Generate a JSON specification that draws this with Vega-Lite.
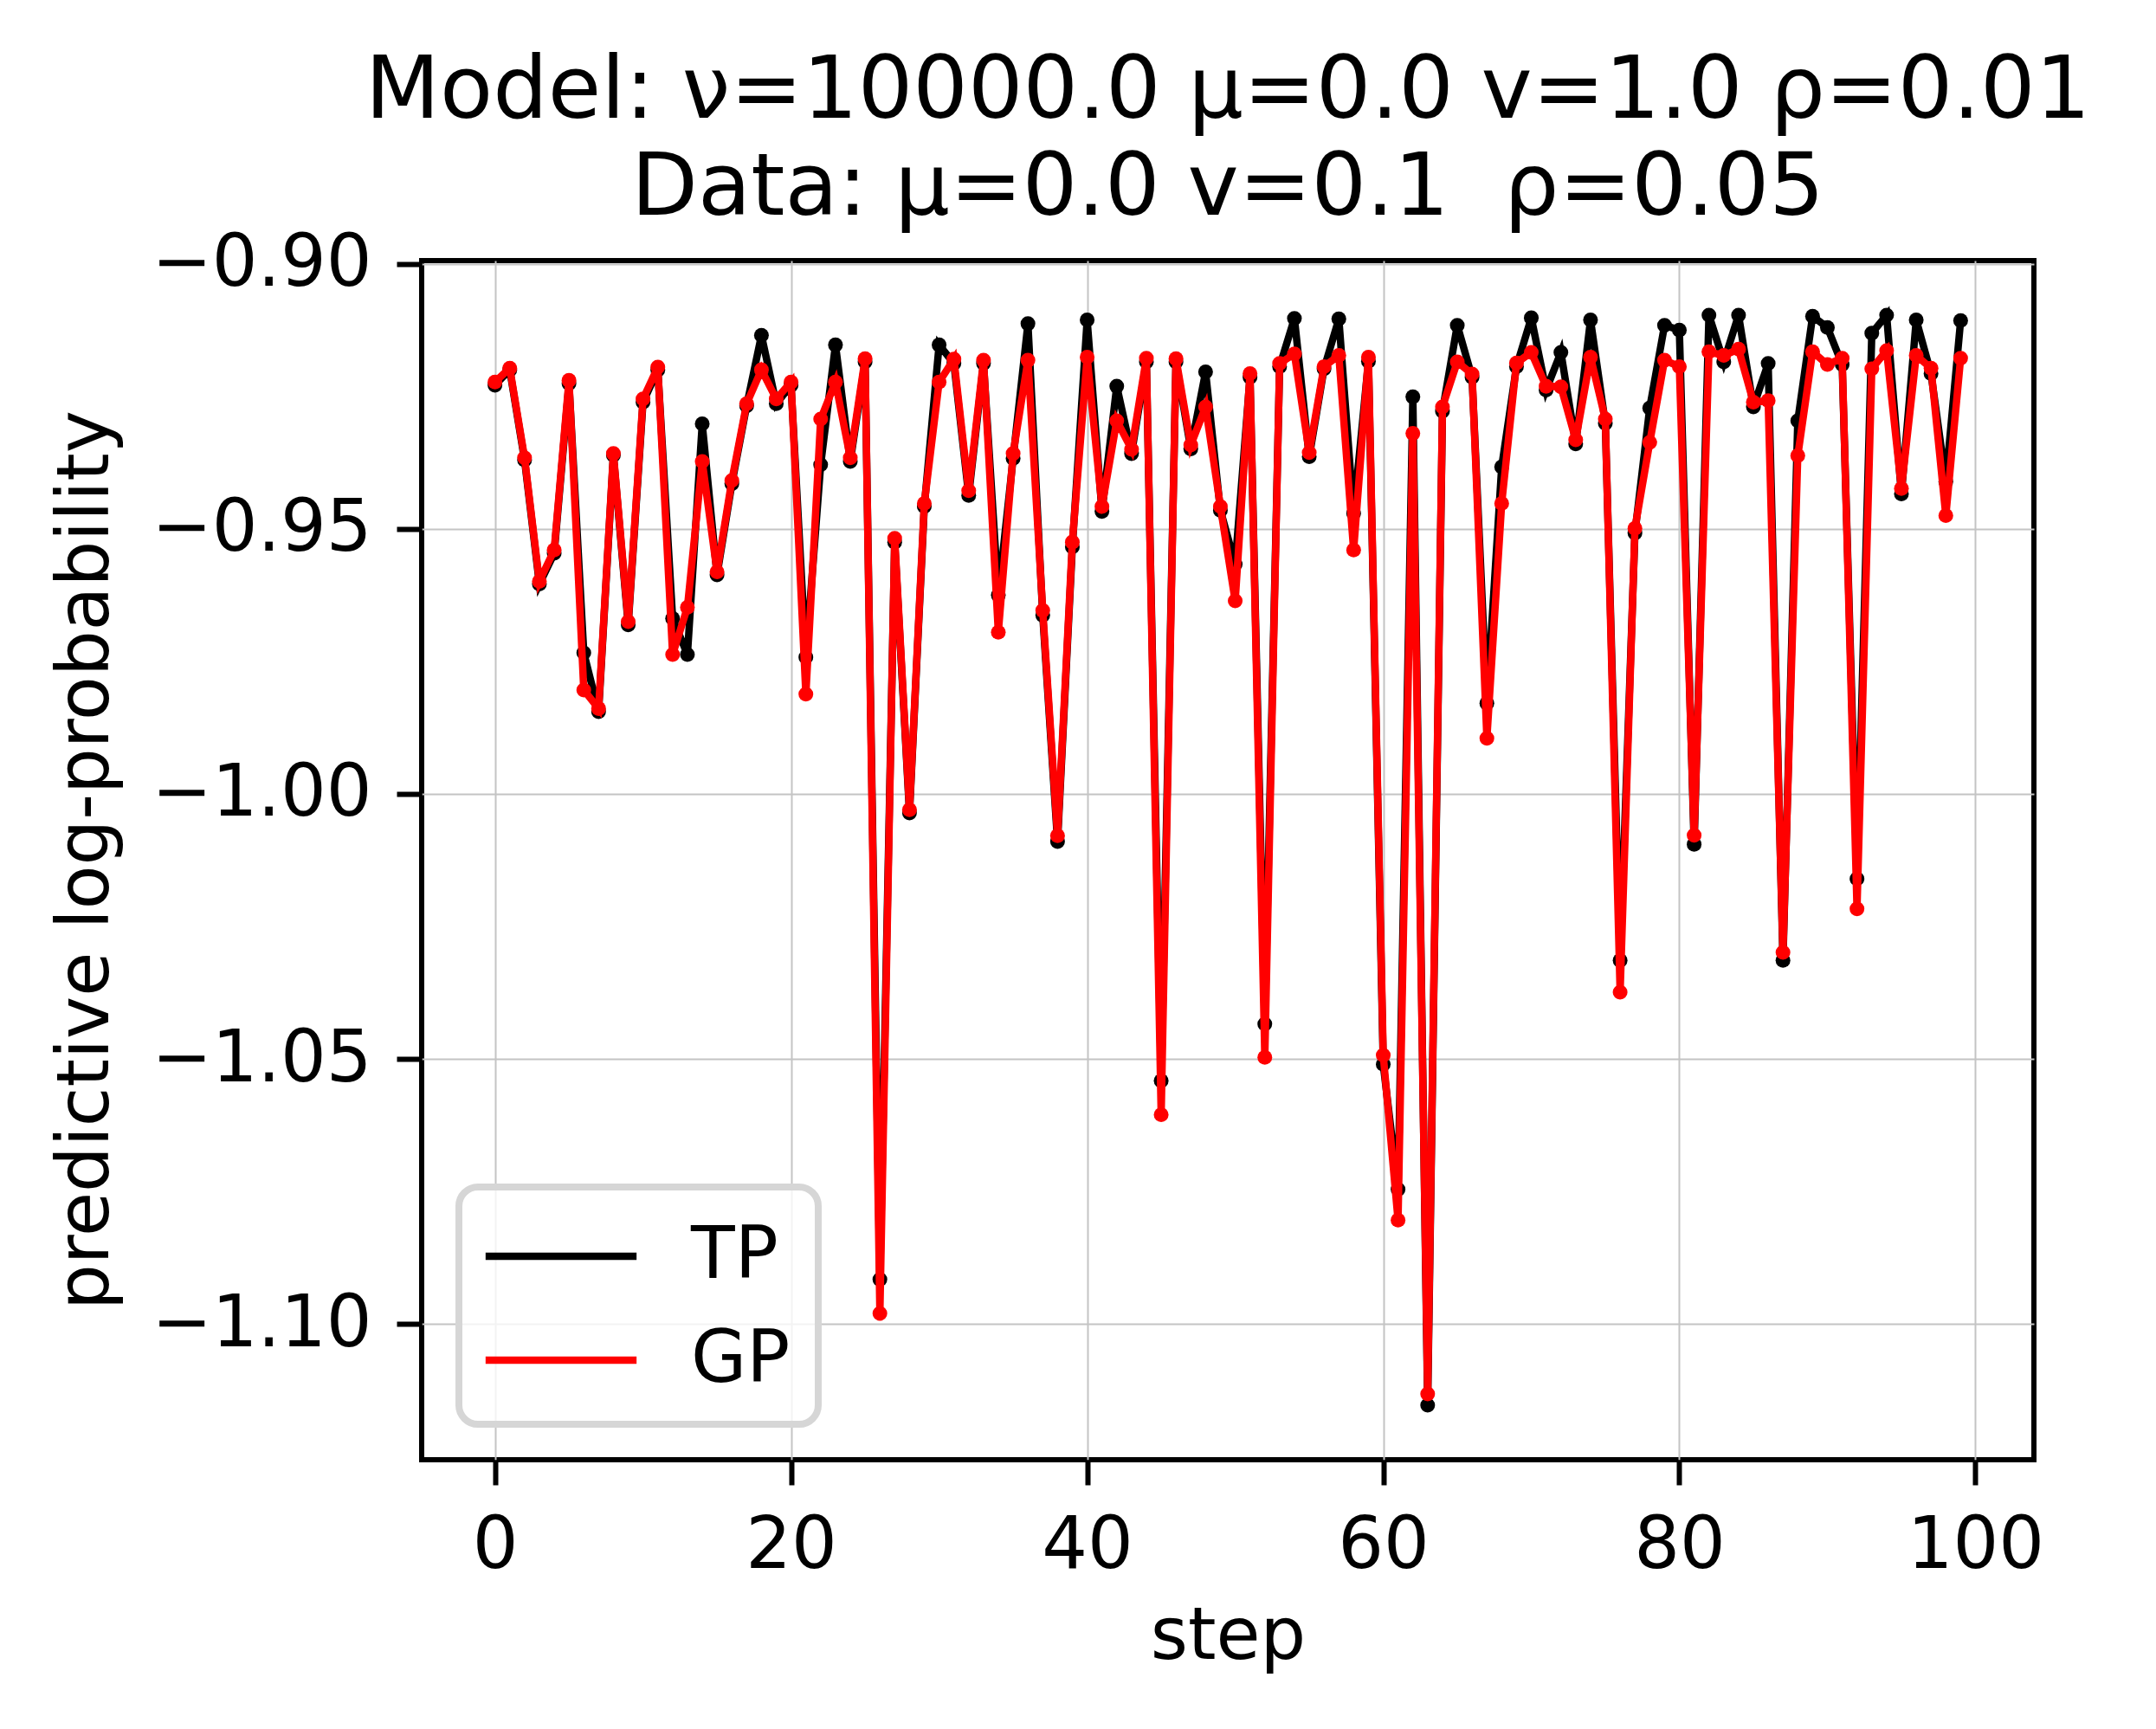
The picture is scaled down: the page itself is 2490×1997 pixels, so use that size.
{
  "$schema": "https://vega.github.io/schema/vega-lite/v6.json",
  "autosize": "none",
  "width": 1862,
  "height": 1385,
  "padding": {"left": 487, "top": 301, "right": 141, "bottom": 311},
  "background": "white",
  "title": {
    "text": ["Model: ν=10000.0 μ=0.0 v=1.0 ρ=0.01", "Data: μ=0.0 v=0.1\u00a0 ρ=0.05"],
    "font": "DejaVu Sans",
    "fontSize": 100,
    "fontWeight": "normal",
    "color": "black",
    "lineHeight": 112,
    "offset": -5,
    "anchor": "middle",
    "frame": "group"
  },
  "config": {
    "font": "DejaVu Sans",
    "view": {"stroke": "black", "strokeWidth": 6},
    "legend": {"strokeWidth": 8},
    "axis": {
      "domain": false,
      "grid": true,
      "gridColor": "#c4c4c4",
      "gridWidth": 2,
      "tickColor": "black",
      "tickWidth": 6,
      "tickSize": 29,
      "labelFont": "DejaVu Sans",
      "labelFontSize": 83,
      "labelColor": "black",
      "labelPadding": 29,
      "labelLimit": 1000,
      "titleFont": "DejaVu Sans",
      "titleFontSize": 83,
      "titleFontWeight": "normal",
      "titleColor": "black"
    }
  },
  "data": {
    "values": [
      {"step": 0, "model": "TP", "value": -0.9229}, {"step": 1, "model": "TP", "value": -0.9200},
      {"step": 2, "model": "TP", "value": -0.9370}, {"step": 3, "model": "TP", "value": -0.9604},
      {"step": 4, "model": "TP", "value": -0.9546}, {"step": 5, "model": "TP", "value": -0.9226},
      {"step": 6, "model": "TP", "value": -0.9734}, {"step": 7, "model": "TP", "value": -0.9845},
      {"step": 8, "model": "TP", "value": -0.9361}, {"step": 9, "model": "TP", "value": -0.9681},
      {"step": 10, "model": "TP", "value": -0.9261}, {"step": 11, "model": "TP", "value": -0.9200},
      {"step": 12, "model": "TP", "value": -0.9669}, {"step": 13, "model": "TP", "value": -0.9737},
      {"step": 14, "model": "TP", "value": -0.9302}, {"step": 15, "model": "TP", "value": -0.9587},
      {"step": 16, "model": "TP", "value": -0.9415}, {"step": 17, "model": "TP", "value": -0.9268},
      {"step": 18, "model": "TP", "value": -0.9135}, {"step": 19, "model": "TP", "value": -0.9264},
      {"step": 20, "model": "TP", "value": -0.9229}, {"step": 21, "model": "TP", "value": -0.9742},
      {"step": 22, "model": "TP", "value": -0.9379}, {"step": 23, "model": "TP", "value": -0.9153},
      {"step": 24, "model": "TP", "value": -0.9373}, {"step": 25, "model": "TP", "value": -0.9185},
      {"step": 26, "model": "TP", "value": -1.0916}, {"step": 27, "model": "TP", "value": -0.9525},
      {"step": 28, "model": "TP", "value": -1.0036}, {"step": 29, "model": "TP", "value": -0.9458},
      {"step": 30, "model": "TP", "value": -0.9153}, {"step": 31, "model": "TP", "value": -0.9188},
      {"step": 32, "model": "TP", "value": -0.9437}, {"step": 33, "model": "TP", "value": -0.9188},
      {"step": 34, "model": "TP", "value": -0.9625}, {"step": 35, "model": "TP", "value": -0.9367},
      {"step": 36, "model": "TP", "value": -0.9113}, {"step": 37, "model": "TP", "value": -0.9663},
      {"step": 38, "model": "TP", "value": -1.0090}, {"step": 39, "model": "TP", "value": -0.9534},
      {"step": 40, "model": "TP", "value": -0.9106}, {"step": 41, "model": "TP", "value": -0.9467},
      {"step": 42, "model": "TP", "value": -0.9231}, {"step": 43, "model": "TP", "value": -0.9358},
      {"step": 44, "model": "TP", "value": -0.9185}, {"step": 45, "model": "TP", "value": -1.0541},
      {"step": 46, "model": "TP", "value": -0.9185}, {"step": 47, "model": "TP", "value": -0.9349},
      {"step": 48, "model": "TP", "value": -0.9204}, {"step": 49, "model": "TP", "value": -0.9465},
      {"step": 50, "model": "TP", "value": -0.9567}, {"step": 51, "model": "TP", "value": -0.9214},
      {"step": 52, "model": "TP", "value": -1.0434}, {"step": 53, "model": "TP", "value": -0.9194},
      {"step": 54, "model": "TP", "value": -0.9103}, {"step": 55, "model": "TP", "value": -0.9364},
      {"step": 56, "model": "TP", "value": -0.9198}, {"step": 57, "model": "TP", "value": -0.9104},
      {"step": 58, "model": "TP", "value": -0.9471}, {"step": 59, "model": "TP", "value": -0.9184},
      {"step": 60, "model": "TP", "value": -1.0510}, {"step": 61, "model": "TP", "value": -1.0746},
      {"step": 62, "model": "TP", "value": -0.9251}, {"step": 63, "model": "TP", "value": -1.1153},
      {"step": 64, "model": "TP", "value": -0.9278}, {"step": 65, "model": "TP", "value": -0.9116},
      {"step": 66, "model": "TP", "value": -0.9214}, {"step": 67, "model": "TP", "value": -0.9829},
      {"step": 68, "model": "TP", "value": -0.9383}, {"step": 69, "model": "TP", "value": -0.9194},
      {"step": 70, "model": "TP", "value": -0.9102}, {"step": 71, "model": "TP", "value": -0.9238},
      {"step": 72, "model": "TP", "value": -0.9167}, {"step": 73, "model": "TP", "value": -0.9340},
      {"step": 74, "model": "TP", "value": -0.9106}, {"step": 75, "model": "TP", "value": -0.9301},
      {"step": 76, "model": "TP", "value": -1.0314}, {"step": 77, "model": "TP", "value": -0.9508},
      {"step": 78, "model": "TP", "value": -0.9272}, {"step": 79, "model": "TP", "value": -0.9116},
      {"step": 80, "model": "TP", "value": -0.9125}, {"step": 81, "model": "TP", "value": -1.0095},
      {"step": 82, "model": "TP", "value": -0.9097}, {"step": 83, "model": "TP", "value": -0.9185},
      {"step": 84, "model": "TP", "value": -0.9097}, {"step": 85, "model": "TP", "value": -0.9270},
      {"step": 86, "model": "TP", "value": -0.9188}, {"step": 87, "model": "TP", "value": -1.0314},
      {"step": 88, "model": "TP", "value": -0.9296}, {"step": 89, "model": "TP", "value": -0.9099},
      {"step": 90, "model": "TP", "value": -0.9120}, {"step": 91, "model": "TP", "value": -0.9190},
      {"step": 92, "model": "TP", "value": -1.0160}, {"step": 93, "model": "TP", "value": -0.9131},
      {"step": 94, "model": "TP", "value": -0.9097}, {"step": 95, "model": "TP", "value": -0.9434},
      {"step": 96, "model": "TP", "value": -0.9106}, {"step": 97, "model": "TP", "value": -0.9207},
      {"step": 98, "model": "TP", "value": -0.9411}, {"step": 99, "model": "TP", "value": -0.9107},

      {"step": 0, "model": "GP", "value": -0.9223}, {"step": 1, "model": "GP", "value": -0.9197},
      {"step": 2, "model": "GP", "value": -0.9366}, {"step": 3, "model": "GP", "value": -0.9599},
      {"step": 4, "model": "GP", "value": -0.9540}, {"step": 5, "model": "GP", "value": -0.9220},
      {"step": 6, "model": "GP", "value": -0.9804}, {"step": 7, "model": "GP", "value": -0.9839},
      {"step": 8, "model": "GP", "value": -0.9358}, {"step": 9, "model": "GP", "value": -0.9675},
      {"step": 10, "model": "GP", "value": -0.9255}, {"step": 11, "model": "GP", "value": -0.9195},
      {"step": 12, "model": "GP", "value": -0.9737}, {"step": 13, "model": "GP", "value": -0.9648},
      {"step": 14, "model": "GP", "value": -0.9373}, {"step": 15, "model": "GP", "value": -0.9581},
      {"step": 16, "model": "GP", "value": -0.9409}, {"step": 17, "model": "GP", "value": -0.9264},
      {"step": 18, "model": "GP", "value": -0.9200}, {"step": 19, "model": "GP", "value": -0.9255},
      {"step": 20, "model": "GP", "value": -0.9223}, {"step": 21, "model": "GP", "value": -0.9812},
      {"step": 22, "model": "GP", "value": -0.9293}, {"step": 23, "model": "GP", "value": -0.9223},
      {"step": 24, "model": "GP", "value": -0.9366}, {"step": 25, "model": "GP", "value": -0.9179},
      {"step": 26, "model": "GP", "value": -1.0980}, {"step": 27, "model": "GP", "value": -0.9518},
      {"step": 28, "model": "GP", "value": -1.0030}, {"step": 29, "model": "GP", "value": -0.9452},
      {"step": 30, "model": "GP", "value": -0.9223}, {"step": 31, "model": "GP", "value": -0.9180},
      {"step": 32, "model": "GP", "value": -0.9428}, {"step": 33, "model": "GP", "value": -0.9182},
      {"step": 34, "model": "GP", "value": -0.9695}, {"step": 35, "model": "GP", "value": -0.9358},
      {"step": 36, "model": "GP", "value": -0.9182}, {"step": 37, "model": "GP", "value": -0.9654},
      {"step": 38, "model": "GP", "value": -1.0079}, {"step": 39, "model": "GP", "value": -0.9525},
      {"step": 40, "model": "GP", "value": -0.9176}, {"step": 41, "model": "GP", "value": -0.9458},
      {"step": 42, "model": "GP", "value": -0.9296}, {"step": 43, "model": "GP", "value": -0.9350},
      {"step": 44, "model": "GP", "value": -0.9178}, {"step": 45, "model": "GP", "value": -1.0605},
      {"step": 46, "model": "GP", "value": -0.9179}, {"step": 47, "model": "GP", "value": -0.9342},
      {"step": 48, "model": "GP", "value": -0.9270}, {"step": 49, "model": "GP", "value": -0.9458},
      {"step": 50, "model": "GP", "value": -0.9636}, {"step": 51, "model": "GP", "value": -0.9207},
      {"step": 52, "model": "GP", "value": -1.0497}, {"step": 53, "model": "GP", "value": -0.9188},
      {"step": 54, "model": "GP", "value": -0.9170}, {"step": 55, "model": "GP", "value": -0.9356},
      {"step": 56, "model": "GP", "value": -0.9194}, {"step": 57, "model": "GP", "value": -0.9173},
      {"step": 58, "model": "GP", "value": -0.9540}, {"step": 59, "model": "GP", "value": -0.9176},
      {"step": 60, "model": "GP", "value": -1.0493}, {"step": 61, "model": "GP", "value": -1.0804},
      {"step": 62, "model": "GP", "value": -0.9320}, {"step": 63, "model": "GP", "value": -1.1132},
      {"step": 64, "model": "GP", "value": -0.9270}, {"step": 65, "model": "GP", "value": -0.9185},
      {"step": 66, "model": "GP", "value": -0.9208}, {"step": 67, "model": "GP", "value": -0.9895},
      {"step": 68, "model": "GP", "value": -0.9452}, {"step": 69, "model": "GP", "value": -0.9187},
      {"step": 70, "model": "GP", "value": -0.9167}, {"step": 71, "model": "GP", "value": -0.9231},
      {"step": 72, "model": "GP", "value": -0.9232}, {"step": 73, "model": "GP", "value": -0.9332},
      {"step": 74, "model": "GP", "value": -0.9176}, {"step": 75, "model": "GP", "value": -0.9293},
      {"step": 76, "model": "GP", "value": -1.0374}, {"step": 77, "model": "GP", "value": -0.9499},
      {"step": 78, "model": "GP", "value": -0.9337}, {"step": 79, "model": "GP", "value": -0.9182},
      {"step": 80, "model": "GP", "value": -0.9194}, {"step": 81, "model": "GP", "value": -1.0078},
      {"step": 82, "model": "GP", "value": -0.9166}, {"step": 83, "model": "GP", "value": -0.9173},
      {"step": 84, "model": "GP", "value": -0.9161}, {"step": 85, "model": "GP", "value": -0.9261},
      {"step": 86, "model": "GP", "value": -0.9258}, {"step": 87, "model": "GP", "value": -1.0299},
      {"step": 88, "model": "GP", "value": -0.9362}, {"step": 89, "model": "GP", "value": -0.9166},
      {"step": 90, "model": "GP", "value": -0.9190}, {"step": 91, "model": "GP", "value": -0.9178},
      {"step": 92, "model": "GP", "value": -1.0217}, {"step": 93, "model": "GP", "value": -0.9198},
      {"step": 94, "model": "GP", "value": -0.9164}, {"step": 95, "model": "GP", "value": -0.9424},
      {"step": 96, "model": "GP", "value": -0.9173}, {"step": 97, "model": "GP", "value": -0.9197},
      {"step": 98, "model": "GP", "value": -0.9475}, {"step": 99, "model": "GP", "value": -0.9178}
    ]
  },
  "encoding": {
    "x": {
      "field": "step",
      "type": "quantitative",
      "scale": {"domain": [-4.95, 103.95], "nice": false, "zero": false},
      "axis": {"values": [0, 20, 40, 60, 80, 100], "title": "step", "titlePadding": 22, "labelFlush": false}
    },
    "y": {
      "field": "value",
      "type": "quantitative",
      "scale": {"domain": [-1.1256, -0.8994], "nice": false, "zero": false},
      "axis": {
        "values": [-1.1, -1.05, -1.0, -0.95, -0.9],
        "format": ".2f",
        "title": "predictive log-probability",
        "titleX": -388,
        "titleY": 692,
        "titleAngle": -90,
        "titleAlign": "center",
        "titleBaseline": "middle"
      }
    },
    "color": {
      "field": "model",
      "type": "nominal",
      "scale": {"domain": ["TP", "GP"], "range": ["black", "red"]},
      "legend": {
        "title": null,
        "orient": "none",
        "legendX": 43,
        "legendY": 1070,
        "symbolType": "M-2,0H2",
        "symbolStrokeWidth": 8.5,
        "symbolSize": 7600,
        "symbolOffset": 38,
        "labelFontSize": 83,
        "labelColor": "black",
        "labelOffset": 102,
        "padding": 32,
        "rowPadding": 30,
        "strokeColor": "#d6d6d6",
        "fillColor": "rgba(255,255,255,0.8)",
        "cornerRadius": 22
      }
    }
  },
  "layer": [
    {"transform": [{"filter": "datum.model === 'TP'"}], "mark": {"type": "line", "strokeWidth": 8.5}},
    {"transform": [{"filter": "datum.model === 'TP'"}], "mark": {"type": "point", "filled": true, "size": 290, "opacity": 1}},
    {"transform": [{"filter": "datum.model === 'GP'"}], "mark": {"type": "line", "strokeWidth": 8.5}},
    {"transform": [{"filter": "datum.model === 'GP'"}], "mark": {"type": "point", "filled": true, "size": 290, "opacity": 1}}
  ]
}
